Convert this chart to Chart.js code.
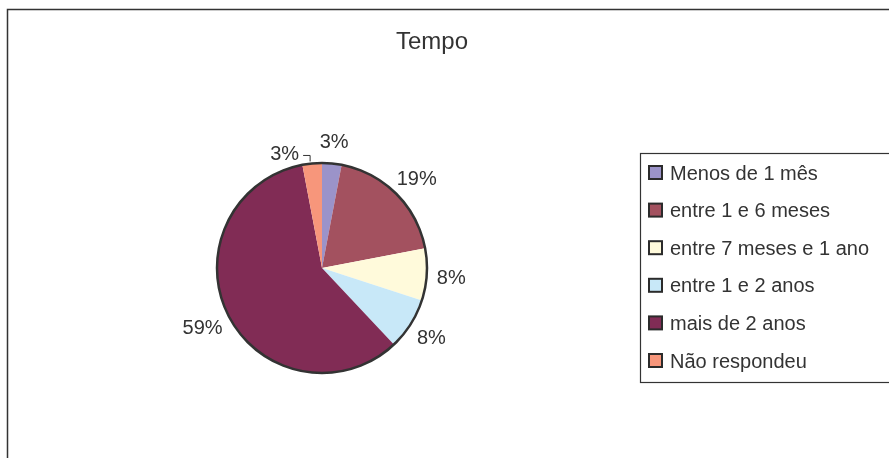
<!DOCTYPE html>
<html>
<head>
<meta charset="utf-8">
<script src="https://cdn.jsdelivr.net/npm/chart.js@4/dist/chart.umd.min.js"></script>
<style>
    html, body { margin: 0; padding: 0; background: #fff; }
    #wrap { width: 889px; height: 458px; }
</style>
</head>
<body>
<div id="wrap"><canvas id="tempoChart" width="889" height="458"></canvas></div>
<script>
var categorias = [
    "Menos de 1 mês",
    "entre 1 e 6 meses",
    "entre 7 meses e 1 ano",
    "entre 1 e 2 anos",
    "mais de 2 anos",
    "Não respondeu",
];
var percentuais = [3, 19, 8, 8, 59, 3];
var titulo = "Tempo";

var cores = [
    "#9b93c9",
    "#a3515f",
    "#fffadb",
    "#c8e8f8",
    "#812c55",
    "#f7967b",
];

var fonte = "'Liberation Sans', Arial, Helvetica, sans-serif";
var corTexto = "#333333";

// moldura, titulo, contorno da pizza, rotulos e legenda
var desenhoExtra = {
    id: "desenhoExtra",
    beforeDraw: function (chart) {
        var ctx = chart.ctx;
        ctx.save();
        ctx.fillStyle = "#ffffff";
        ctx.fillRect(0, 0, chart.width, chart.height);
        ctx.strokeStyle = "#333333";
        ctx.lineWidth = 1.5;
        ctx.strokeRect(7.5, 9.5, chart.width + 20, chart.height + 20);
        ctx.fillStyle = corTexto;
        ctx.font = "24px " + fonte;
        ctx.textAlign = "center";
        ctx.textBaseline = "alphabetic";
        ctx.fillText(titulo, 432, 49);
        ctx.restore();
    },
    afterDatasetsDraw: function (chart) {
        var ctx = chart.ctx;
        var arcs = chart.getDatasetMeta(0).data;
        var a0 = arcs[0];
        var cx = a0.x, cy = a0.y, r = a0.outerRadius;
        ctx.save();
        ctx.beginPath();
        ctx.arc(cx, cy, r, 0, Math.PI * 2);
        ctx.strokeStyle = "#333333";
        ctx.lineWidth = 2.5;
        ctx.stroke();

        ctx.font = "20px " + fonte;
        ctx.fillStyle = corTexto;
        ctx.textAlign = "center";
        ctx.textBaseline = "middle";
        arcs.forEach(function (arc, i) {
            var mid = (arc.startAngle + arc.endAngle) / 2;
            var texto = percentuais[i] + "%";
            var w = ctx.measureText(texto).width;
            var cos = Math.cos(mid), sin = Math.sin(mid);
            if (i === arcs.length - 1) {
                // rotulo deslocado para a esquerda com linha de chamada
                var ex = cx + r * cos, ey = cy + r * sin;
                var lx = ex - 2, ly = ey - 8;
                ctx.beginPath();
                ctx.moveTo(lx, ey - 2);
                ctx.lineTo(lx, ly);
                ctx.lineTo(lx - 7, ly);
                ctx.strokeStyle = "#333333";
                ctx.lineWidth = 1;
                ctx.stroke();
                ctx.fillText(texto, lx - 11 - w / 2, ly - 1);
                return;
            }
            var ax = cx + (r + 13) * cos;
            var ay = cy + (r + 13) * sin;
            ctx.fillText(texto, ax + 0.4 * w * cos, ay + 10 * sin + 2);
        });
        ctx.restore();
    },
    afterDraw: function (chart) {
        var ctx = chart.ctx;
        var bx = 640, by = 153, bh = 229;
        ctx.save();
        ctx.strokeStyle = "#333333";
        ctx.lineWidth = 1.2;
        ctx.strokeRect(bx + 0.5, by + 0.5, chart.width, bh);
        ctx.font = "20px " + fonte;
        ctx.textAlign = "left";
        ctx.textBaseline = "middle";
        categorias.forEach(function (nome, i) {
            var y = by + 20 + i * 37.6;
            ctx.fillStyle = cores[i];
            ctx.fillRect(649, y - 7, 13, 13);
            ctx.strokeStyle = "#2b2b2b";
            ctx.lineWidth = 2;
            ctx.strokeRect(649, y - 7, 13, 13);
            ctx.fillStyle = corTexto;
            ctx.fillText(nome, 670, y + 1);
        });
        ctx.restore();
    },
};

new Chart("tempoChart", {
    type: "pie",
    data: {
        labels: categorias,
        datasets: [
            {
                data: percentuais,
                backgroundColor: cores,
                borderWidth: 0,
            },
        ],
    },
    options: {
        responsive: false,
        animation: false,
        radius: 105,
        layout: {
            padding: { left: 100, right: 345, top: 100, bottom: 22 },
        },
        plugins: {
            legend: { display: false },
            title: { display: false },
            tooltip: { enabled: false },
        },
    },
    plugins: [desenhoExtra],
});
</script>
</body>
</html>
